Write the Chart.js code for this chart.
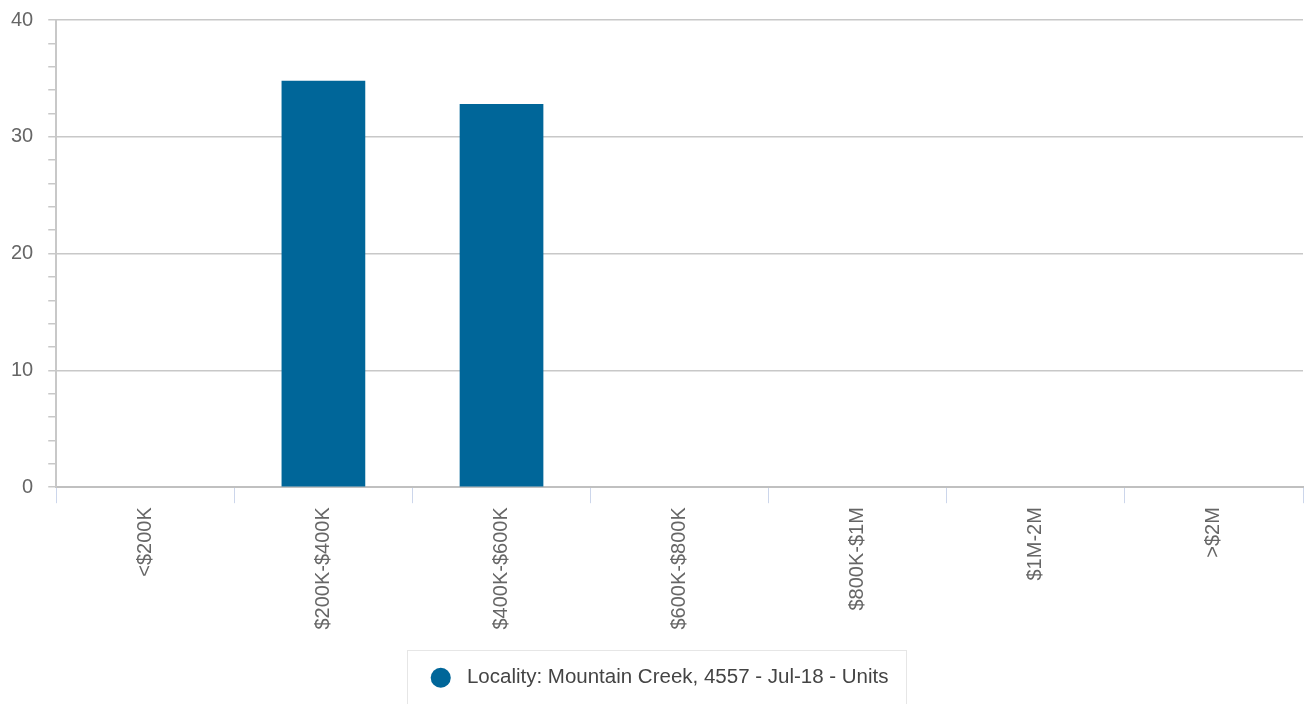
<!DOCTYPE html>
<html>
<head>
<meta charset="utf-8">
<script src="https://cdn.jsdelivr.net/npm/chart.js@4.4.1/dist/chart.umd.min.js"></script>
<style>
    html, body { margin: 0; padding: 0; background: #fff; overflow: hidden; }
    #wrap { position: absolute; left: 0; top: -7px; width: 1304px; height: 711px; }
</style>
</head>
<body>
<div id="wrap"><canvas id="chart"></canvas></div>
<script>
const categories = ['<$200K', '$200K-$400K', '$400K-$600K', '$600K-$800K', '$800K-$1M', '$1M-2M', '>$2M'];
const units = [0, 34.8, 32.8, 0, 0, 0, 0];
const seriesName = 'Locality: Mountain Creek, 4557 - Jul-18 - Units';

// nudges the legend a bit right and draws the light frame round it
const legendFrame = {
    id: 'legendFrame',
    afterLayout(chart) {
        if (chart.legend) chart.legend.left += 20;
    },
    afterDraw(chart) {
        const boxes = chart.legend && chart.legend.legendHitBoxes;
        if (!boxes || !boxes.length) return;
        const hb = boxes[0];
        const cy = hb.top + hb.height / 2;
        const ctx = chart.ctx;
        ctx.save();
        ctx.strokeStyle = '#e6e6e6';
        ctx.lineWidth = 1;
        ctx.strokeRect(Math.round(hb.left - 23) + 0.5, Math.round(cy - 28) + 0.5, Math.round(hb.width + 41), 80);
        ctx.restore();
    }
};

const ctx = document.getElementById('chart').getContext('2d');
new Chart(ctx, {
    type: 'bar',
    data: {
        labels: categories,
        datasets: [{
            label: seriesName,
            data: units,
            backgroundColor: '#006699',
            borderWidth: 0,
            categoryPercentage: 0.94,
            barPercentage: 0.5
        }]
    },
    options: {
        responsive: true,
        maintainAspectRatio: false,
        animation: false,
        layout: { padding: { top: 0, right: 1, left: -4, bottom: 6 } },
        plugins: {
            tooltip: { enabled: false },
            legend: {
                position: 'bottom',
                labels: {
                    usePointStyle: true,
                    pointStyle: 'circle',
                    boxWidth: 20.5,
                    boxHeight: 14.2,
                    padding: 34,
                    color: '#444',
                    font: { family: '"Liberation Sans", Arial, sans-serif', size: 20.5 },
                    generateLabels: (chart) => Chart.defaults.plugins.legend.labels.generateLabels(chart)
                        .map(item => Object.assign(item, { text: ' ' + item.text }))
                }
            }
        },
        scales: {
            x: {
                offset: true,
                grid: {
                    offset: true,
                    drawOnChartArea: false,
                    drawTicks: true,
                    tickLength: 16,
                    tickColor: '#ccd6eb'
                },
                border: { color: '#c0c0c0', width: 2 },
                ticks: {
                    minRotation: 90,
                    maxRotation: 90,
                    padding: 4,
                    color: '#666',
                    font: { family: '"Liberation Sans", Arial, sans-serif', size: 20 }
                }
            },
            y: {
                min: 0,
                max: 40,
                grid: {
                    color: (c) => (c.tick && c.tick.value % 10 === 0) ? '#c8c8c8' : 'rgba(0,0,0,0)',
                    tickColor: '#c8c8c8',
                    tickLength: 8,
                    lineWidth: 1.5
                },
                border: { color: '#c8c8c8', width: 2 },
                ticks: {
                    stepSize: 2,
                    autoSkip: false,
                    padding: 15,
                    color: '#666',
                    font: { family: '"Liberation Sans", Arial, sans-serif', size: 20 },
                    callback: (v) => (v % 10 === 0 ? v : '')
                }
            }
        }
    },
    plugins: [legendFrame]
});
</script>
</body>
</html>
